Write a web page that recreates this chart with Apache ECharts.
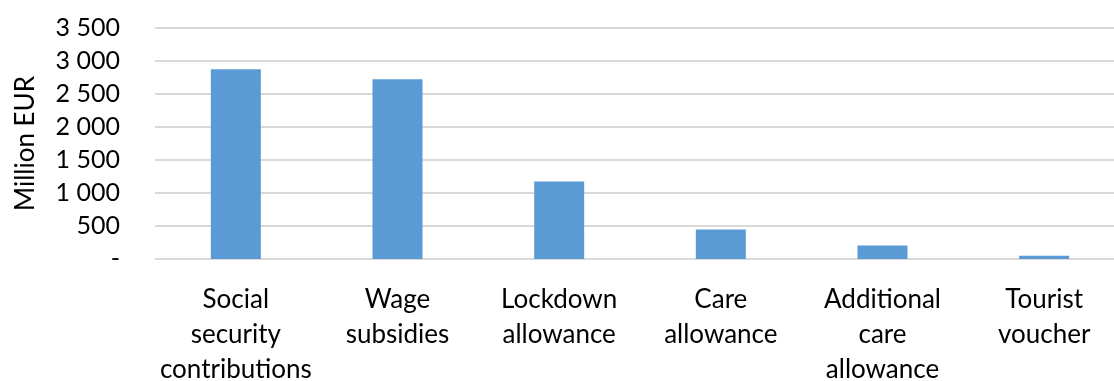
<!DOCTYPE html>
<html>
<head>
<meta charset="utf-8">
<script src="https://cdn.jsdelivr.net/npm/echarts@6/dist/echarts.min.js"></script>
<style>
  html,body{margin:0;padding:0;background:#fff;}
  #chart{width:1114px;height:381px;}
</style>
</head>
<body>
<div id="chart"></div>
<script>
  // categories and values (million EUR)
  var categories = [
    "Social\nsecurity\ncontributions",
    "Wage\nsubsidies",
    "Lockdown\nallowance",
    "Care\nallowance",
    "Additional\ncare\nallowance",
    "Tourist\nvoucher"
  ];
  var values = [2875, 2725, 1175, 446, 203, 51];
  var yName = "Million EUR";

  var FONT = "Lato, 'Open Sans', sans-serif";
  var INK = "#000";

  function fmtTick(v){
    if(v === 0) return "-";
    var s = String(v);
    return s.length > 3 ? s.slice(0, s.length-3) + " " + s.slice(-3) : s;
  }

  var chart = echarts.init(document.getElementById("chart"), null, { renderer: "canvas" });
  chart.setOption({
    animation: false,
    grid: { left: 155, right: -11, top: 28, bottom: 122, containLabel: false, outerBoundsMode: "none" },
    xAxis: {
      type: "category",
      data: categories,
      axisLine: { show: false },
      axisTick: { show: false },
      axisLabel: {
        interval: 0, margin: 23, hideOverlap: false,
        fontFamily: FONT, fontSize: 26, lineHeight: 35, color: INK
      }
    },
    yAxis: {
      type: "value",
      min: 0, max: 3500, interval: 500,
      name: yName,
      nameLocation: "middle",
      nameGap: 116,
      nameRotate: 90,
      nameTextStyle: { fontFamily: FONT, fontSize: 26, color: INK },
      axisLine: { show: false },
      axisTick: { show: false },
      splitLine: { lineStyle: { color: "#D9D9D9", width: 2 } },
      axisLabel: {
        margin: 35,
        fontFamily: FONT, fontSize: 25, color: INK,
        formatter: fmtTick
      }
    },
    series: [{
      type: "bar",
      data: values,
      barWidth: 50,
      itemStyle: { color: "#5B9BD5" }
    }]
  });
</script>
</body>
</html>
